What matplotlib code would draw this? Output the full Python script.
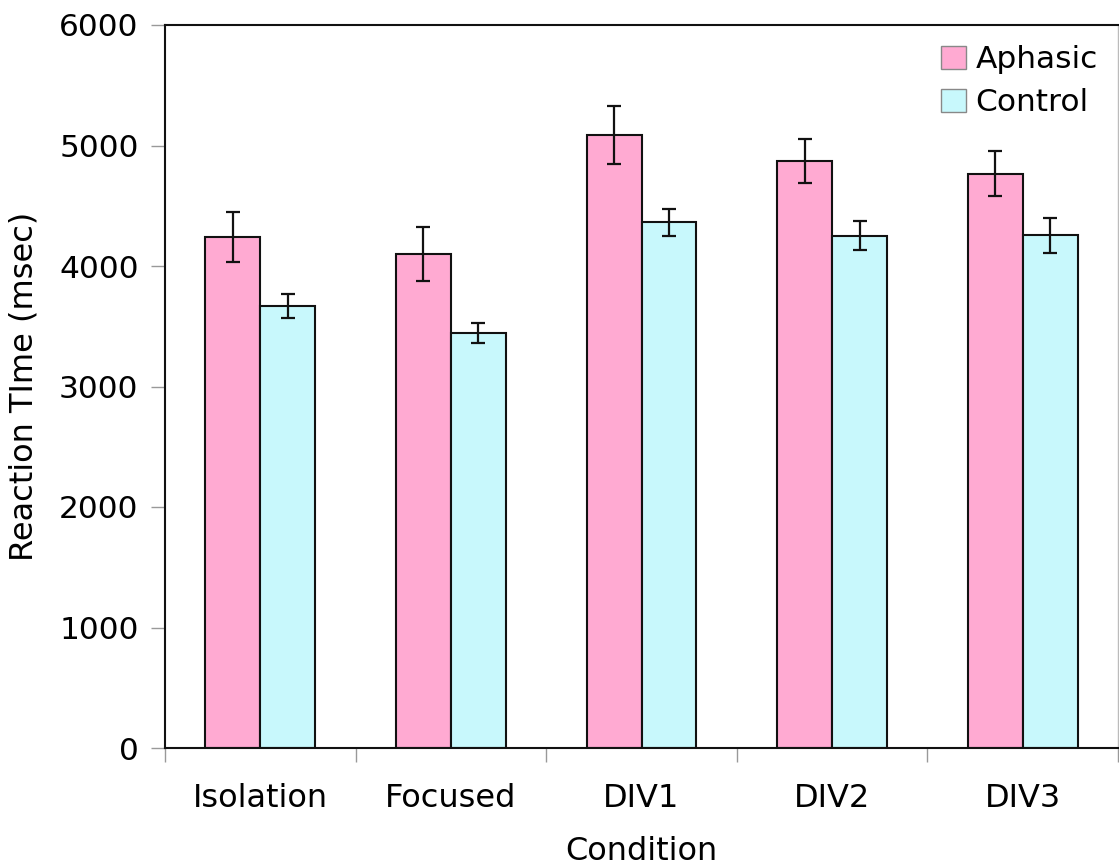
import matplotlib
matplotlib.use("Agg")
import matplotlib.pyplot as plt
import numpy as np

categories = ["Isolation", "Focused", "DIV1", "DIV2", "DIV3"]
aphasic = [4240, 4100, 5085, 4870, 4765]
aphasic_err = [205, 225, 240, 182, 187]
control = [3668, 3444, 4365, 4250, 4257]
control_err = [100, 82, 112, 120, 145]
yticks = [0, 1000, 2000, 3000, 4000, 5000, 6000]

pink = "#FFAAD2"
cyan = "#C8F8FC"
lab_font = "DejaVu Sans"

fig = plt.figure(figsize=(11.19, 8.66), dpi=100)
ax = fig.add_axes([165/1119, (866-748)/866, (1118-165)/1119, (748-25)/866])

x = np.arange(len(categories))
w = 0.288
ekw = dict(ecolor="#111111", elinewidth=1.6, capsize=5, capthick=1.6)
ax.bar(x - w/2, aphasic, w, yerr=aphasic_err, color=pink, edgecolor="#111111",
       linewidth=1.5, label="Aphasic", error_kw=ekw, zorder=2)
ax.bar(x + w/2, control, w, yerr=control_err, color=cyan, edgecolor="#111111",
       linewidth=1.5, label="Control", error_kw=ekw, zorder=2)

ax.set_xlim(-0.5, len(categories) - 0.5)
ax.set_ylim(0, 6000)
ax.set_yticks(yticks)
ax.set_yticklabels([str(v) for v in yticks], fontsize=22.5, family="DejaVu Sans")
ax.tick_params(axis="y", direction="out", length=10, width=1, color="#999999", pad=9)

ax.set_xticks(np.arange(len(categories) + 1) - 0.5)
ax.set_xticklabels([])
ax.tick_params(axis="x", which="major", direction="out", length=10, width=1, color="#999999")
ax.set_xticks(x, minor=True)
ax.set_xticklabels(categories, minor=True, fontsize=23, family=lab_font)
ax.tick_params(axis="x", which="minor", length=0, pad=25)

for s in ["left", "bottom", "top"]:
    ax.spines[s].set_color("#111111")
    ax.spines[s].set_linewidth(1.5)
ax.spines["right"].set_color("#BBBBBB")
ax.spines["right"].set_linewidth(1)

xl = ax.set_xlabel("Condition", fontsize=23, family=lab_font)
xl.set_va("center")
ax.xaxis.set_label_coords(0.5, (748 - 852) / 723)
ax.set_ylabel("Reaction TIme (msec)", fontsize=23, family=lab_font, labelpad=14)

leg = ax.legend(loc="upper right", frameon=False, fontsize=22.5, handlelength=0.8,
                handleheight=0.8, handletextpad=0.3, labelspacing=0.45,
                borderaxespad=0.25)
for h in leg.legend_handles:
    h.set_edgecolor("#888888")
    h.set_linewidth(1)

fig.savefig("out.png", dpi=100)
